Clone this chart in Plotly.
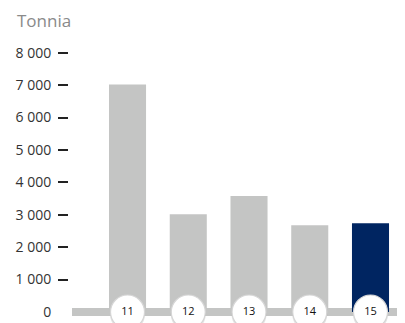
import plotly.graph_objects as go

categories = ["11", "12", "13", "14", "15"]
values = [7020, 3020, 3580, 2680, 2740]
colors = ["#c4c5c4", "#c4c5c4", "#c4c5c4", "#c4c5c4", "#002561"]
tick_vals = [1000, 2000, 3000, 4000, 5000, 6000, 7000, 8000]
tick_text = ["1 000", "2 000", "3 000", "4 000", "5 000", "6 000", "7 000", "8 000"]
zero_val = [0]
zero_text = ["0"]
y_title = "Tonnia"

xs = list(range(len(categories)))

# the page body adds an 8px offset; figure is sized to end at the window edge
W, H = 397, 315
L, T = 60, 32
PW, PH = W - L, H - T
YR = [-340, 8395]

fig = go.Figure()
fig.add_trace(go.Bar(x=xs, y=values, marker=dict(color=colors, line=dict(width=0)),
                     width=0.61, hoverinfo="skip"))
# soft shadow beneath the circles
fig.add_trace(go.Scatter(x=xs, y=[-70] * len(xs), mode="markers",
                         marker=dict(size=35, color="rgba(0,0,0,0.10)", line=dict(width=0)),
                         hoverinfo="skip", cliponaxis=False))
fig.add_trace(go.Scatter(x=xs, y=[0] * len(xs), mode="markers+text", text=categories,
                         textposition="middle center",
                         textfont=dict(family="Open Sans", size=11, color="#111111"),
                         marker=dict(size=34, color="white", line=dict(width=1.2, color="#d6d6d6")),
                         hoverinfo="skip", cliponaxis=False))

tick_common = dict(ticks="outside", ticklen=10, tickwidth=2, ticklabelstandoff=4,
                   tickfont=dict(family="Open Sans", size=14, color="#333333"),
                   showgrid=False, showline=False, range=YR)

fig.update_layout(
    width=W, height=H,
    margin=dict(l=L, r=0, t=T, b=0),
    paper_bgcolor="white", plot_bgcolor="white",
    showlegend=False,
    font=dict(family="Open Sans", color="#333333"),
    xaxis=dict(domain=[4 / PW, 1], range=[-0.914, 4.568], showticklabels=False,
               showgrid=False, zeroline=False, showline=False, ticks=""),
    yaxis=dict(anchor="free", position=0, tickvals=tick_vals, ticktext=tick_text,
               tickcolor="#222222",
               zeroline=True, zerolinewidth=8, zerolinecolor="#c4c5c4", **tick_common),
    yaxis2=dict(anchor="free", position=0, overlaying="y", tickvals=zero_val,
                ticktext=zero_text, tickcolor="rgba(0,0,0,0)", zeroline=False,
                **tick_common),
)
# invisible trace to activate the second y axis
fig.add_trace(go.Scatter(x=[xs[0]], y=[0], yaxis="y2", mode="markers",
                         marker=dict(opacity=0), hoverinfo="skip", showlegend=False))
fig.add_annotation(text=y_title, xref="paper", yref="paper",
                   x=(7 - L) / PW, y=1 + (T - 13) / PH,
                   xanchor="left", yanchor="middle", showarrow=False,
                   font=dict(family="Open Sans", size=17, color="#8a8a8a"))

fig.write_html("out.html")
